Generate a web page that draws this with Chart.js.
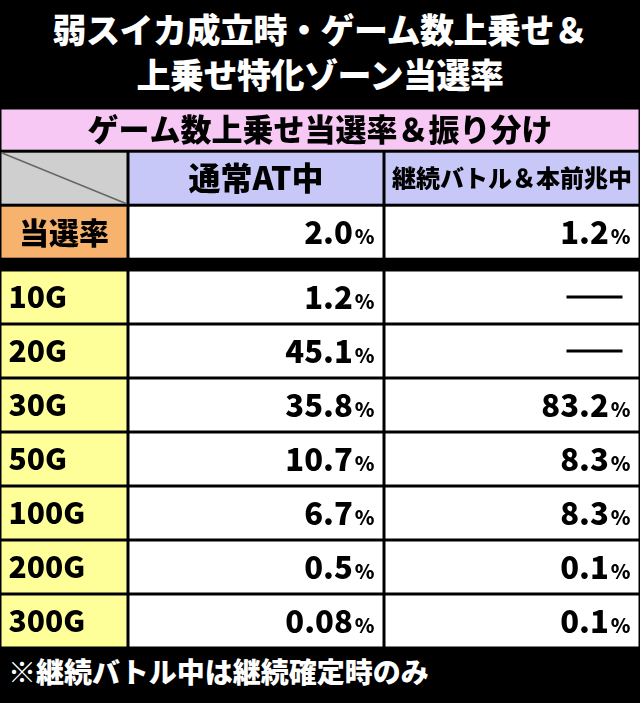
<!DOCTYPE html><html><head><meta charset="utf-8">
<script src="https://cdn.jsdelivr.net/npm/chart.js@4"></script>
<style>
body{margin:0;background:#000;width:640px;height:703px;overflow:hidden;font-family:"Noto Sans CJK JP",sans-serif;}
#t{color:#fff;font-weight:900;font-size:34px;line-height:45px;text-align:center;height:106px;padding-top:6px;box-sizing:border-box;white-space:nowrap;letter-spacing:-0.5px;}
#f{color:#fff;font-weight:900;font-size:28px;line-height:40px;padding-left:8px;}
</style></head><body>
<div id="t">弱スイカ成立時・ゲーム数上乗せ＆<br>上乗せ特化ゾーン当選率</div>
<canvas id="c" width="640" height="545"></canvas>
<div id="f">※継続バトル中は継続確定時のみ</div>
<script>
const tableTitle = "ゲーム数上乗せ当選率＆振り分け";
const columnHeaders = ["", "通常AT中", "継続バトル＆本前兆中"];
const rateLabel = "当選率";
const rateValues = ["2.0", "1.2"];
const rowLabels = ["10G","20G","30G","50G","100G","200G","300G"];
const atValues = ["1.2","45.1","35.8","10.7","6.7","0.5","0.08"];
const battleValues = [null,null,"83.2","8.3","8.3","0.1","0.1"];

const F = '"Noto Sans CJK JP", sans-serif';
const tablePlugin = {
  id:'table',
  afterDraw(chart){
    const ctx = chart.ctx, xs = chart.scales.x, ys = chart.scales.y;
    const g = 1.5;
    function cell(x0,x1,y0,y1,bg){
      const a=xs.getPixelForValue(x0)+g, b=xs.getPixelForValue(x1)-g;
      const c=ys.getPixelForValue(y0)+g, d=ys.getPixelForValue(y1)-g;
      ctx.fillStyle=bg; ctx.fillRect(a,c,b-a,d-c);
      return {a,b,c,d,m:(c+d)/2};
    }
    function txt(s,x,y,size,align,color){
      ctx.font='900 '+size+'px '+F; ctx.fillStyle=color||'#000';
      ctx.textAlign=align; ctx.textBaseline='middle'; ctx.fillText(s,x,y);
    }
    function val(r,v){
      if(v===null){ ctx.fillStyle='#000'; ctx.fillRect(r.b-72,r.m-1.5,56,3); return; }
      ctx.font='900 20px '+F; const pw=ctx.measureText('%').width;
      txt('%',r.b-8,r.m+4,20,'right');
      txt(v,r.b-10-pw,r.m,31,'right');
    }
    ctx.save();
    let r=cell(0,5,0,0.8,'#f6c8f3'); txt(tableTitle,320,r.m,31,'center');
    r=cell(0,1,0.8,1.8,'#cfcfcf');
    ctx.strokeStyle='#666';ctx.lineWidth=1.5;ctx.beginPath();ctx.moveTo(r.a,r.c);ctx.lineTo(r.b,r.d);ctx.stroke();
    r=cell(1,3,0.8,1.8,'#c8c8f8'); txt(columnHeaders[1],(r.a+r.b)/2,r.m,32,'center');
    r=cell(3,5,0.8,1.8,'#c8c8f8'); txt(columnHeaders[2],(r.a+r.b)/2,r.m,24,'center');
    r=cell(0,1,1.8,2.8,'#f7b36e'); txt(rateLabel,(r.a+r.b)/2,r.m,30,'center');
    val(cell(1,3,1.8,2.8,'#fff'),rateValues[0]);
    val(cell(3,5,1.8,2.8,'#fff'),rateValues[1]);
    rowLabels.forEach((l,i)=>{
      const y0=3+i,y1=4+i;
      r=cell(0,1,y0,y1,'#ffff99'); txt(l,r.a+7,r.m,30,'left');
      val(cell(1,3,y0,y1,'#fff'),atValues[i]);
      val(cell(3,5,y0,y1,'#fff'),battleValues[i]);
    });
    ctx.restore();
  }
};
new Chart(document.getElementById('c'),{
  type:'scatter',data:{datasets:[{data:[]}]},
  options:{responsive:false,animation:false,layout:{padding:{left:0,right:0,top:2,bottom:3}},
    plugins:{legend:{display:false},tooltip:{enabled:false}},
    scales:{x:{type:'linear',min:0,max:5,display:false},y:{type:'linear',min:0,max:10,reverse:true,display:false}}},
  plugins:[tablePlugin]
});
</script></body></html>
